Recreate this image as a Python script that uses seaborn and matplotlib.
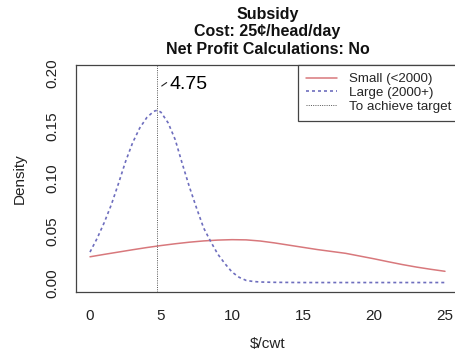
import matplotlib
matplotlib.use("Agg")
import matplotlib.pyplot as plt
import seaborn as sns
import pandas as pd
from matplotlib.lines import Line2D

# ---- data ----
large_x = [0, 0.5, 1.0, 1.5, 2.0, 2.5, 3.0, 3.5, 4.0, 4.5, 4.75, 5.0, 5.5, 6.0,
           6.5, 7.0, 7.5, 8.0, 8.5, 9.0, 9.5, 10.0, 10.5, 11.0, 11.5, 12, 13,
           14, 15, 16, 17, 18, 19, 20, 21, 22, 23, 24, 25]
large_y = [0.030, 0.043, 0.058, 0.075, 0.095, 0.116, 0.134, 0.148, 0.158, 0.1640,
           0.1650, 0.1630, 0.153, 0.137, 0.114, 0.092, 0.072, 0.053, 0.040, 0.028,
           0.019, 0.011, 0.006, 0.003, 0.002, 0.0015, 0.0012, 0.0011, 0.0010,
           0.0010, 0.0010, 0.0010, 0.0010, 0.0010, 0.0010, 0.0010, 0.0010,
           0.0010, 0.0010]

small_x = list(range(0, 26))
small_y = [0.0255, 0.0278, 0.0300, 0.0322, 0.0343, 0.0362, 0.0379, 0.0394,
           0.0406, 0.0414, 0.0418, 0.0416, 0.0405, 0.0387, 0.0366, 0.0345,
           0.0324, 0.0306, 0.0288, 0.0262, 0.0236, 0.0208, 0.0181, 0.0157,
           0.0136, 0.0117]

target = 4.75
target_label = "4.75"

x_ticks = [0, 5, 10, 15, 20, 25]
y_ticks = [0.00, 0.05, 0.10, 0.15, 0.20]
y_tick_labels = ["0.00", "0.05", "0.10", "0.15", "0.20"]

title = "Subsidy\nCost: 25\u00a2/head/day\nNet Profit Calculations: No"
legend_labels = ["Small (<2000)", "Large (2000+)", "To achieve target"]

# ---- style ----
sns.set_theme(style="white")
plt.rcParams["font.family"] = ["Liberation Sans", "DejaVu Sans"]

RED = "#d8787c"
BLUE = "#6e6ebe"
DARK = "#444444"

W, H = 456, 362
fig = plt.figure(figsize=(W / 100, H / 100), dpi=100)
ax = fig.add_axes([75.8 / W, 70 / H, (459.2 - 75.8) / W, 227 / H])

df_small = pd.DataFrame({"x": small_x, "y": small_y})
df_large = pd.DataFrame({"x": large_x, "y": large_y})

sns.lineplot(data=df_small, x="x", y="y", ax=ax, color=RED, lw=1.1)
sns.lineplot(data=df_large, x="x", y="y", ax=ax, color=BLUE, lw=1.2,
             dashes=False)
ax.lines[-1].set_dashes((1.8, 1.8))

ax.axvline(target, color="#555555", lw=0.7, dashes=(1, 1.3))

ax.plot([target + 0.3, target + 0.65], [0.1880, 0.1913], color="#222222", lw=0.8)
ax.text(target + 0.87, 0.1895, target_label, fontsize=14, color="black",
        va="center", ha="left")

ax.set_xlim(-1, 26)
ax.set_ylim(-0.008, 0.208)
ax.set_xticks(x_ticks)
ax.set_xticklabels([str(v) for v in x_ticks])
ax.set_yticks(y_ticks)
ax.set_yticklabels(y_tick_labels, rotation=90, va="center")

ax.tick_params(axis="both", direction="out", length=5, width=0.8, color=DARK,
               labelsize=11, labelcolor="#222222")
ax.tick_params(axis="x", pad=7)
ax.tick_params(axis="y", pad=7)
for s in ax.spines.values():
    s.set_color(DARK)
    s.set_linewidth(0.9)

ax.set_xlabel("$/cwt", fontsize=11, color="#222222", labelpad=10)
ax.set_ylabel("Density", fontsize=11, color="#222222", labelpad=13)
ax.set_title(title, fontsize=11.5, fontweight="bold", linespacing=1.22, pad=8,
             color="#111111")

handles = [
    Line2D([], [], color=RED, lw=1.1),
    Line2D([], [], color=BLUE, lw=1.2, dashes=(1.8, 1.8)),
    Line2D([], [], color="#555555", lw=0.7, dashes=(1, 1.3)),
]
leg = ax.legend(handles, legend_labels, loc="upper right", borderaxespad=0,
                fontsize=9.6, frameon=True, fancybox=False, framealpha=1,
                edgecolor=DARK, handlelength=2.3, handletextpad=0.9,
                labelspacing=0.1, borderpad=0.6)
leg.get_frame().set_linewidth(0.9)

fig.savefig("out.png", dpi=100)
